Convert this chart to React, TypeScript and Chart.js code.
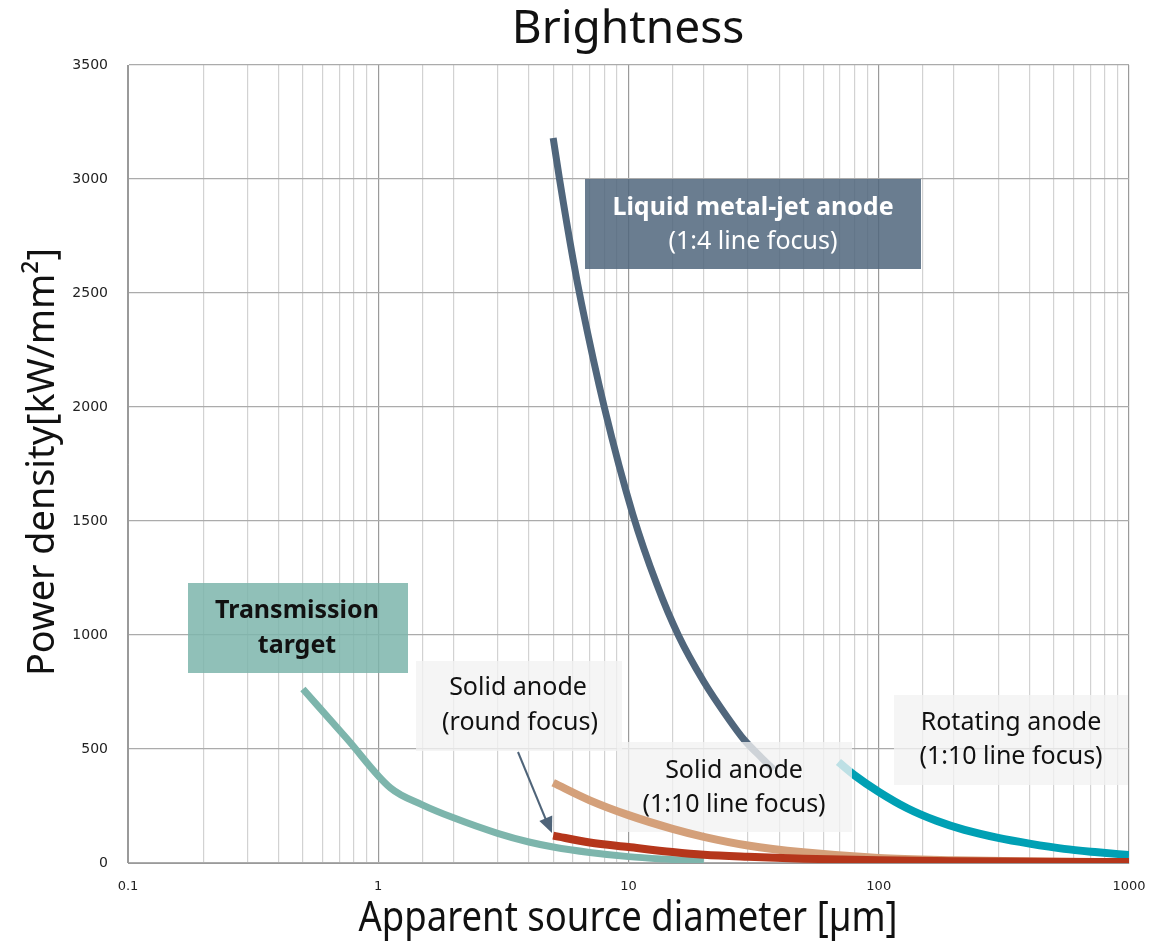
import React, { useEffect, useRef } from "react";
import { Chart, registerables } from "chart.js";

Chart.register(...registerables);

// ---- data ----
const xTickLabels = ["0.1", "1", "10", "100", "1000"];
const yTicks = [0, 500, 1000, 1500, 2000, 2500, 3000, 3500];

const transX = [0.5, 0.75, 1.12, 1.5, 2, 3, 4, 5, 7, 10, 14, 20];
const transY = [763, 545, 329, 255, 198, 130, 92, 70, 46, 28, 17, 8];

const liquidX = [5, 5.3, 6, 6.5, 8, 10.4, 13, 15.8, 20, 25, 29, 34, 38];
const liquidY = [3180, 3000, 2650, 2450, 2000, 1530, 1220, 1000, 795, 635, 540, 462, 410];

const roundX = [5, 7, 10, 15, 20, 30, 50, 100, 200, 500, 1000];
const roundY = [120, 90, 70, 48, 36, 27, 19, 12, 8, 5, 4];

const lineX = [5, 7, 10, 15, 20, 30, 50, 100, 200, 500, 1000];
const lineY = [352, 275, 210, 150, 115, 77, 47, 22, 12, 5, 3];

const rotX = [69, 80, 100, 130, 170, 220, 300, 400, 550, 750, 1000];
const rotY = [443, 385, 312, 240, 185, 145, 110, 85, 62, 47, 35];

const seriesNames = [
  "Transmission target",
  "Liquid metal-jet anode",
  "Solid anode (round focus)",
  "Solid anode (1:10 line focus)",
  "Rotating anode (1:10 line focus)",
];

const pts = (xs: number[], ys: number[]) => xs.map((x, i) => ({ x, y: ys[i] }));

const isPow10 = (v: number) => {
  const l = Math.log10(v);
  return Math.abs(l - Math.round(l)) < 1e-6;
};

function fitText(
  ctx: CanvasRenderingContext2D,
  text: string,
  x: number,
  y: number,
  width: number,
  font: string,
  rot = 0
) {
  ctx.save();
  ctx.font = font;
  const w = ctx.measureText(text).width;
  ctx.translate(x, y);
  if (rot) ctx.rotate(rot);
  ctx.scale(width / w, 1);
  ctx.textAlign = "center";
  ctx.fillText(text, 0, 0);
  ctx.restore();
}

function drawBoxes(ctx: CanvasRenderingContext2D) {
  ctx.save();
  const boxes = [
    { x: 585, y: 179, w: 336, h: 90, fill: "rgba(80,102,124,0.85)" },
    { x: 188, y: 583, w: 220, h: 90, fill: "rgba(125,181,172,0.85)" },
    { x: 416, y: 661, w: 206, h: 90, fill: "rgba(242,242,242,0.78)" },
    { x: 617, y: 742, w: 235, h: 90, fill: "rgba(242,242,242,0.78)" },
    { x: 894, y: 695, w: 234, h: 90, fill: "rgba(242,242,242,0.78)" },
  ];
  for (const b of boxes) {
    ctx.fillStyle = b.fill;
    ctx.fillRect(b.x, b.y, b.w, b.h);
  }
  ctx.textAlign = "center";
  ctx.textBaseline = "middle";
  ctx.fillStyle = "#ffffff";
  ctx.font = 'bold 25px "Noto Sans"';
  ctx.fillText("Liquid metal-jet anode", 753, 208);
  ctx.font = '25px "Noto Sans"';
  ctx.fillText("(1:4 line focus)", 753, 242);
  ctx.fillStyle = "#111111";
  ctx.font = 'bold 25px "Noto Sans"';
  ctx.fillText("Transmission", 297, 611);
  ctx.fillText("target", 297, 646);
  ctx.font = '25px "Noto Sans"';
  ctx.fillText("Solid anode", 518, 688);
  ctx.fillText("(round focus)", 520, 723);
  ctx.fillText("Solid anode", 734, 771);
  ctx.fillText("(1:10 line focus)", 734, 805);
  ctx.fillText("Rotating anode", 1011, 723);
  ctx.fillText("(1:10 line focus)", 1011, 757);

  // arrow
  ctx.strokeStyle = "#4F6479";
  ctx.fillStyle = "#4F6479";
  ctx.lineWidth = 2;
  ctx.beginPath();
  ctx.moveTo(518, 752);
  ctx.lineTo(546, 820);
  ctx.stroke();
  const ang = Math.atan2(833 - 752, 552 - 518);
  ctx.beginPath();
  ctx.moveTo(552, 833);
  ctx.lineTo(552 - 16 * Math.cos(ang) - 7 * Math.sin(ang), 833 - 16 * Math.sin(ang) + 7 * Math.cos(ang));
  ctx.lineTo(552 - 16 * Math.cos(ang) + 7 * Math.sin(ang), 833 - 16 * Math.sin(ang) - 7 * Math.cos(ang));
  ctx.closePath();
  ctx.fill();
  ctx.restore();
}

const annotationPlugin = {
  id: "annotations",
  beforeDatasetDraw(chart: any, args: any) {
    // boxes sit above the liquid-metal and rotating lines, below the solid-anode lines
    if (args.index === 3) drawBoxes(chart.ctx);
  },
  afterDraw(chart: any) {
    const ctx: CanvasRenderingContext2D = chart.ctx;
    ctx.save();
    ctx.fillStyle = "#111111";
    ctx.textAlign = "center";
    ctx.textBaseline = "middle";
    ctx.font = '46px "Noto Sans"';
    ctx.fillText("Brightness", 628, 30);
    ctx.textBaseline = "alphabetic";
    fitText(ctx, "Apparent source diameter [µm]", 628, 931, 539, '41px "Noto Sans"');
    ctx.textBaseline = "middle";
    fitText(ctx, "Power density[kW/mm²]", 43, 462, 428, '38px "Noto Sans"', -Math.PI / 2);
    ctx.restore();
  },
};

export default function App() {
  const ref = useRef<HTMLCanvasElement | null>(null);
  useEffect(() => {
    if (!ref.current) return;
    Chart.defaults.font.family = '"DejaVu Sans"';
    const common = {
      pointRadius: 0,
      fill: false,
      cubicInterpolationMode: "monotone" as const,
      borderCapStyle: "butt" as const,
    };
    const chart = new Chart(ref.current, {
      type: "line",
      data: {
        datasets: [
          { ...common, label: seriesNames[0], data: pts(transX, transY), borderColor: "#7DB5AC", borderWidth: 7, order: 2 },
          { ...common, label: seriesNames[1], data: pts(liquidX, liquidY), borderColor: "#50667C", borderWidth: 7, order: 3 },
          { ...common, label: seriesNames[2], data: pts(roundX, roundY), borderColor: "#B5361B", borderWidth: 8, order: 0 },
          { ...common, label: seriesNames[3], data: pts(lineX, lineY), borderColor: "#D4A07A", borderWidth: 8, order: 1 },
          { ...common, label: seriesNames[4], data: pts(rotX, rotY), borderColor: "#00A0B4", borderWidth: 8, order: 4 },
        ],
      },
      options: {
        responsive: false,
        animation: false,
        devicePixelRatio: 1,
        layout: { padding: { top: 65, right: 44, left: 0, bottom: 0 } },
        plugins: { legend: { display: false }, tooltip: { enabled: false }, title: { display: false } },
        scales: {
          x: {
            type: "logarithmic",
            min: 0.1,
            max: 1000,
            grid: {
              drawTicks: false,
              color: (c: any) => (c.tick && isPow10(c.tick.value) ? "#9a9a9a" : "#d2d2d2"),
              lineWidth: 1.2,
            },
            border: { color: "#9a9a9a" },
            ticks: {
              autoSkip: false,
              maxRotation: 0,
              padding: 16,
              color: "#222",
              font: { size: 13 },
              callback: (v: any) => {
                const n = Number(v);
                if (!isPow10(n)) return "";
                const idx = Math.round(Math.log10(n)) + 1;
                return xTickLabels[idx] ?? "";
              },
            },
            afterFit: (s: any) => {
              s.height = 78;
              s.paddingLeft = 0;
              s.paddingRight = 0;
            },
          },
          y: {
            min: yTicks[0],
            max: yTicks[yTicks.length - 1],
            afterBuildTicks: (s: any) => {
              s.ticks = yTicks.map((v) => ({ value: v }));
            },
            grid: { drawTicks: false, color: "#ababab", lineWidth: 1.2 },
            border: { color: "#9a9a9a" },
            ticks: {
              padding: 20,
              color: "#222",
              font: { size: 14 },
              callback: (v: any) => String(v),
            },
            afterFit: (s: any) => {
              s.width = 128;
              s.paddingTop = 0;
              s.paddingBottom = 0;
            },
          },
        },
      },
      plugins: [annotationPlugin],
    });
    return () => chart.destroy();
  }, []);
  return (
    <div style={{ position: "absolute", left: 0, top: 0, width: 1173, height: 941, background: "#fff" }}>
      <canvas ref={ref} width={1173} height={941} style={{ display: "block" }} />
    </div>
  );
}
